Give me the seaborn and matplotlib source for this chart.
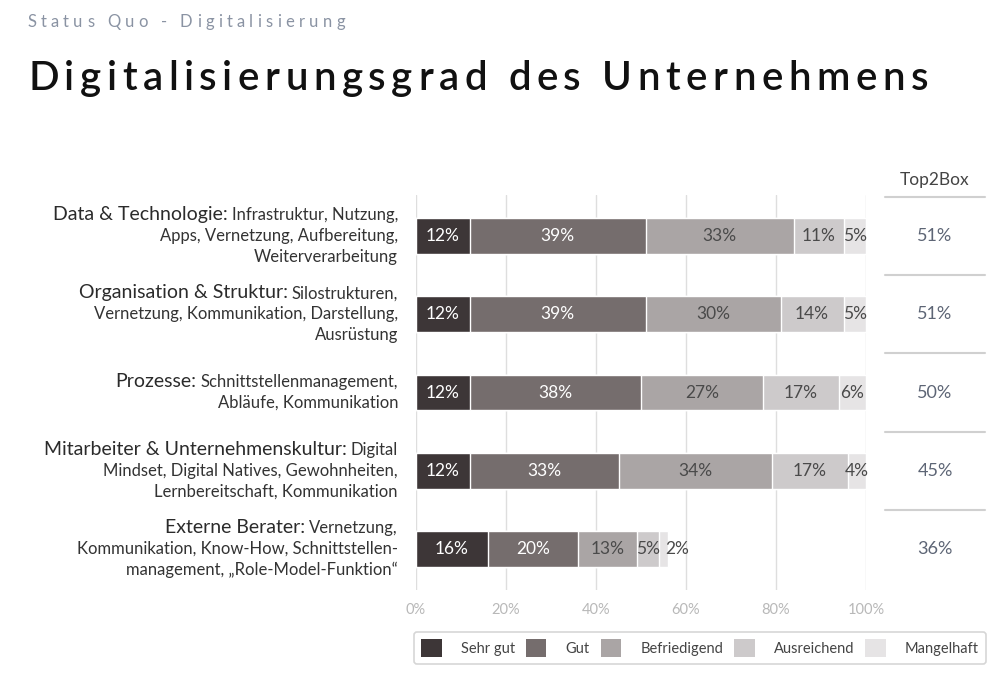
import numpy as np
import pandas as pd
import matplotlib
matplotlib.use("Agg")
import matplotlib.pyplot as plt
import matplotlib.transforms as mtransforms
from matplotlib.patches import Patch
import seaborn as sns

# data
categories = ["Data & Technologie", "Organisation & Struktur", "Prozesse",
              "Mitarbeiter & Unternehmenskultur", "Externe Berater"]
ratings = ["Sehr gut", "Gut", "Befriedigend", "Ausreichend", "Mangelhaft"]
sehr_gut = [12, 12, 12, 12, 16]
gut = [39, 39, 38, 33, 20]
befriedigend = [33, 30, 27, 34, 13]
ausreichend = [11, 14, 17, 17, 5]
mangelhaft = [5, 5, 6, 4, 2]
x_ticks = [0, 20, 40, 60, 80, 100]

# label text: (heading, rest of first line), further lines
label_lines = [
    [("Data & Technologie:", "Infrastruktur, Nutzung,"),
     "Apps, Vernetzung, Aufbereitung,", "Weiterverarbeitung"],
    [("Organisation & Struktur:", "Silostrukturen,"),
     "Vernetzung, Kommunikation, Darstellung,", "Ausrüstung"],
    [("Prozesse:", "Schnittstellenmanagement,"),
     "Abläufe, Kommunikation"],
    [("Mitarbeiter & Unternehmenskultur:", "Digital"),
     "Mindset, Digital Natives, Gewohnheiten,", "Lernbereitschaft, Kommunikation"],
    [("Externe Berater:", "Vernetzung,"),
     "Kommunikation, Know-How, Schnittstellen-", "management, \u201eRole-Model-Funktion\u201c"],
]

colors = ["#3d3637", "#756d6d", "#aaa5a5", "#cdcacb", "#e6e4e5"]
text_colors = ["white", "white", "#4a4a4a", "#4a4a4a", "#4a4a4a"]

df = pd.DataFrame({"Kategorie": categories, "Sehr gut": sehr_gut, "Gut": gut,
                   "Befriedigend": befriedigend, "Ausreichend": ausreichend,
                   "Mangelhaft": mangelhaft})
cum = df[ratings].cumsum(axis=1)
df["Top2Box"] = df["Sehr gut"] + df["Gut"]

sns.set_style("white")
plt.rcParams["font.family"] = ["Lato", "DejaVu Sans"]

W, H = 1000, 697
fig = plt.figure(figsize=(W / 100, H / 100), dpi=100)
ax = fig.add_axes([416 / W, 1 - 590 / H, 450 / W, 395 / H])

# stacked bars: draw cumulative totals from the back to the front
for i in reversed(range(len(ratings))):
    sns.barplot(x=cum[ratings[i]], y=df["Kategorie"], color=colors[i],
                orient="h", width=0.46, ax=ax, saturation=1, zorder=2)

ax.set_xlim(0, 100)
ax.set_ylim(4.524, -0.524)
ax.set_xticks(x_ticks)
ax.set_xticklabels([f"{t}%" for t in x_ticks], color="#b8b8b8", fontsize=10.5)
ax.set_yticks([])
ax.set_xlabel("")
ax.set_ylabel("")
ax.tick_params(axis="x", length=0, pad=9)
for s in ax.spines.values():
    s.set_visible(False)
ax.grid(axis="x", color="#dedede", linewidth=1, zorder=0)
ax.set_axisbelow(True)

# segment labels
for r in range(len(categories)):
    for i, name in enumerate(ratings):
        v = df.loc[r, name]
        xc = cum.loc[r, name] - v / 2
        col = text_colors[i]
        if v <= 2:
            xc = cum.loc[r, name] + 2
            col = "#4a4a4a"
        ax.text(xc, r, f"{v}%", ha="center", va="center", fontsize=12.5,
                color=col, zorder=3)

renderer = fig.canvas.get_renderer()
lab_tr = mtransforms.blended_transform_factory(fig.transFigure, ax.transData)
px = 1 / 78.25
x_right = 398 / W
for r, lines in enumerate(label_lines):
    n = len(lines)
    for k, line in enumerate(lines):
        y = r + (k - (n - 1) / 2) * 21 * px + 5 * px
        if isinstance(line, tuple):
            head, rest = line
            t = ax.text(x_right, y, rest, transform=lab_tr, ha="right", va="baseline",
                        fontsize=12, color="#333333")
            w = t.get_window_extent(renderer).width
            ax.text(x_right - (w + 4) / W, y, head, transform=lab_tr, ha="right",
                    va="baseline", fontsize=14, color="#2b2b2b")
        else:
            ax.text(x_right, y, line, transform=lab_tr, ha="right", va="baseline",
                    fontsize=12, color="#333333")

# Top2Box column
fig.text(935 / W, 1 - 180 / H, "Top2Box", ha="center", va="center", fontsize=12.5,
         color="#444444")
for r in range(len(categories)):
    ax.plot([885 / W, 985 / W], [r - 0.5, r - 0.5], transform=lab_tr, color="#d0d0d0",
            linewidth=1.5, clip_on=False)
    ax.text(935 / W, r, f"{df.loc[r, 'Top2Box']}%", transform=lab_tr, ha="center",
            va="center", fontsize=13, color="#5d6575")

# legend
handles = [Patch(facecolor=c, edgecolor="none", label=l) for c, l in zip(colors, ratings)]
leg = fig.legend(handles=handles, loc="center", ncol=5, mode="expand",
                 bbox_to_anchor=(414 / W, 1 - 668 / H, 572 / W, 40 / H),
                 frameon=True, fancybox=True, edgecolor="#cccccc", fontsize=10.5,
                 handlelength=1.4, handleheight=1.5, handletextpad=1.3,
                 borderpad=0.5, borderaxespad=0, labelcolor="#444444")
leg.get_frame().set_linewidth(1.2)


def tracked_text(x0, x1, y_base, s, **kw):
    # spread the characters of s so the text runs from x0 to x1 (pixels)
    probe = fig.text(0, 0, "I", **kw)
    w_i = probe.get_window_extent(renderer).width
    probe.remove()
    full = fig.text(0, 0, s, **kw)
    w_full = full.get_window_extent(renderer).width
    full.remove()
    track = (x1 - x0 - w_full) / (len(s) - 1)
    for k, ch in enumerate(s):
        if ch == " ":
            continue
        if k == 0:
            w = 0
        else:
            t = fig.text(0, 0, s[:k] + "I", **kw)
            w = t.get_window_extent(renderer).width - w_i
            t.remove()
        fig.text((x0 + w + k * track) / W, 1 - y_base / H, ch, ha="left",
                 va="baseline", **kw)


tracked_text(27, 345, 27, "Status Quo - Digitalisierung", fontsize=12, color="#8a93a3")
tracked_text(28, 928, 90, "Digitalisierungsgrad des Unternehmens", fontsize=29,
             color="#111111", fontweight="semibold")

plt.savefig("out.png", dpi=100)
